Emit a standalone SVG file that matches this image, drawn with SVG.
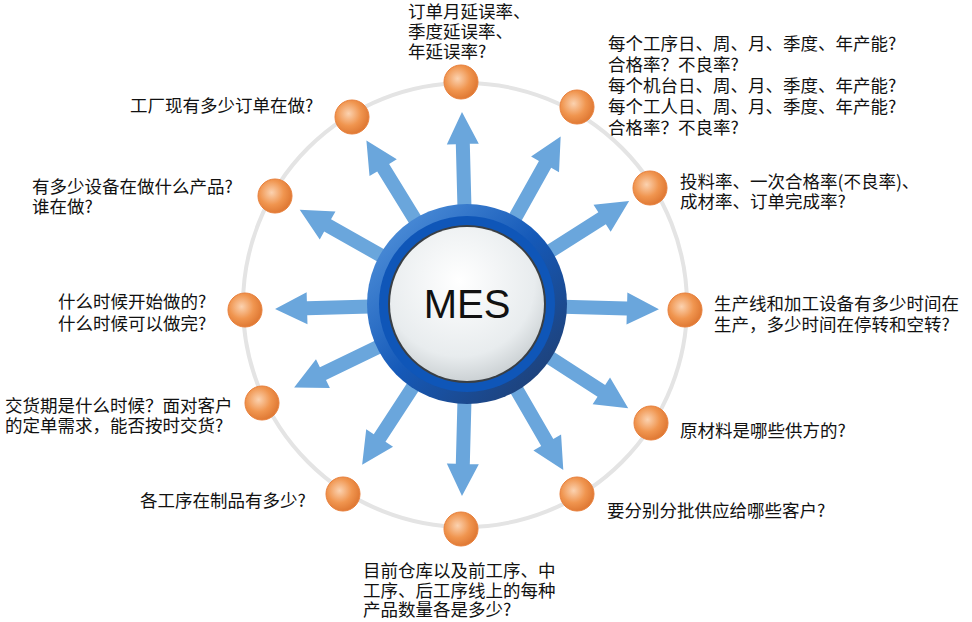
<svg xmlns="http://www.w3.org/2000/svg" width="972" height="622" viewBox="0 0 972 622">
<defs>
<radialGradient id="og" cx="0.4" cy="0.4" r="0.6"><stop offset="0" stop-color="#fbd2b0"/><stop offset="0.6" stop-color="#f0954f"/><stop offset="1" stop-color="#e07a35"/></radialGradient>
<linearGradient id="ring" x1="0" y1="0" x2="1" y2="1"><stop offset="0" stop-color="#5b9be0"/><stop offset="0.5" stop-color="#1559b8"/><stop offset="1" stop-color="#213a66"/></linearGradient>
<radialGradient id="face" cx="0.45" cy="0.35" r="0.7"><stop offset="0" stop-color="#ffffff"/><stop offset="0.7" stop-color="#e8ecee"/><stop offset="1" stop-color="#c4cacd"/></radialGradient>
<polygon id="arr" points="60,-7 160,-7 160,-16 192,0 160,16 160,7 60,7"/>
</defs>
<style>
text{font-family:"Noto Sans CJK SC","Microsoft YaHei",sans-serif;font-size:17.5px;fill:#111}
.n{fill:url(#og);stroke:#e8803c;stroke-width:1}
.a{fill:#6aa6dc}
</style>
<rect width="972" height="622" fill="#fff"/>
<circle cx="465" cy="305" r="222" fill="none" stroke="#e4e4e4" stroke-width="4"/>
<g id="connectors">
<use href="#arr" class="a" transform="translate(467,304) rotate(-91.5)"/>
<use href="#arr" class="a" transform="translate(467,304) rotate(-60.8)"/>
<use href="#arr" class="a" transform="translate(467,304) rotate(-32.4)"/>
<use href="#arr" class="a" transform="translate(467,304) rotate(1.6)"/>
<use href="#arr" class="a" transform="translate(467,304) rotate(32.9)"/>
<use href="#arr" class="a" transform="translate(467,304) rotate(59.9)"/>
<use href="#arr" class="a" transform="translate(467,304) rotate(91.5)"/>
<use href="#arr" class="a" transform="translate(467,304) rotate(123.1)"/>
<use href="#arr" class="a" transform="translate(467,304) rotate(154.2)"/>
<use href="#arr" class="a" transform="translate(467,304) rotate(178.5)"/>
<use href="#arr" class="a" transform="translate(467,304) rotate(209.4)"/>
<use href="#arr" class="a" transform="translate(467,304) rotate(238.4)"/>
</g>
<g id="mes">
<circle cx="467" cy="304" r="100" fill="url(#ring)"/>
<circle cx="467" cy="304" r="88" fill="#0f56b8"/>
<circle cx="467" cy="304" r="79" fill="#3a3f44"/>
<circle cx="467" cy="304" r="77" fill="url(#face)"/>
<text x="467" y="318" text-anchor="middle" style="font-family:'Liberation Sans',sans-serif;font-size:40px">MES</text>
</g>
<g id="n1"><circle class="n" cx="461" cy="82" r="17"/><text x="408" y="18">订单月延误率、</text><text x="408" y="38">季度延误率、</text><text x="408" y="58">年延误率?</text></g>
<g id="n2"><circle class="n" cx="577" cy="107" r="17"/><text x="608" y="50">每个工序日、周、月、季度、年产能?</text><text x="608" y="71">合格率？不良率?</text><text x="608" y="92">每个机台日、周、月、季度、年产能?</text><text x="608" y="113">每个工人日、周、月、季度、年产能?</text><text x="608" y="134">合格率？不良率?</text></g>
<g id="n3"><circle class="n" cx="650" cy="188" r="17"/><text x="680" y="188">投料率、一次合格率(不良率)、</text><text x="680" y="208">成材率、订单完成率?</text></g>
<g id="n4"><circle class="n" cx="685" cy="310" r="17"/><text x="714" y="310">生产线和加工设备有多少时间在</text><text x="714" y="331">生产，多少时间在停转和空转?</text></g>
<g id="n5"><circle class="n" cx="651" cy="423" r="17"/><text x="680" y="437">原材料是哪些供方的?</text></g>
<g id="n6"><circle class="n" cx="577" cy="494" r="17"/><text x="607" y="517">要分别分批供应给哪些客户?</text></g>
<g id="n7"><circle class="n" cx="461" cy="529" r="17"/><text x="363" y="577">目前仓库以及前工序、中</text><text x="363" y="597">工序、后工序线上的每种</text><text x="363" y="616">产品数量各是多少?</text></g>
<g id="n8"><circle class="n" cx="343" cy="494" r="17"/><text x="140" y="507">各工序在制品有多少?</text></g>
<g id="n9"><circle class="n" cx="262" cy="403" r="17"/><text x="5" y="412">交货期是什么时候？面对客户</text><text x="5" y="432">的定单需求，能否按时交货?</text></g>
<g id="n10"><circle class="n" cx="245" cy="310" r="17"/><text x="58" y="308">什么时候开始做的?</text><text x="58" y="330">什么时候可以做完?</text></g>
<g id="n11"><circle class="n" cx="275" cy="196" r="17"/><text x="32" y="193">有多少设备在做什么产品?</text><text x="32" y="213">谁在做?</text></g>
<g id="n12"><circle class="n" cx="352" cy="117" r="17"/><text x="130" y="112">工厂现有多少订单在做?</text></g>
</svg>
